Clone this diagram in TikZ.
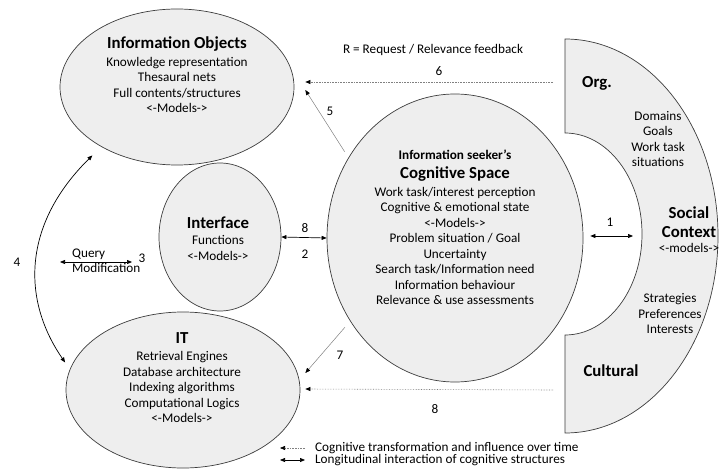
\documentclass[tikz,border=0pt]{standalone}
\usepackage{fontspec}
\setmainfont{Carlito}
\usetikzlibrary{arrows.meta,shapes.geometric,calc}
\definecolor{blobFill}{RGB}{238,238,238}
\definecolor{blobLine}{RGB}{60,60,60}

\tikzset{
  blob/.style={ellipse, draw=blobLine, fill=blobFill, line width=0.7pt, inner sep=0pt},
  head/.style={font=\fontsize{16.8}{19}\selectfont\bfseries, align=center, inner sep=0pt},
  body/.style={font=\fontsize{13.2}{15.5}\selectfont, align=center, inner sep=0pt},
  num/.style={font=\fontsize{13.2}{15}\selectfont, inner sep=0pt},
  dotarrow/.style={draw=gray, densely dotted, line width=0.6pt, -{Triangle[length=5pt,width=4pt,color=black]}},
  thinarrow/.style={draw=gray, line width=0.5pt, -{Triangle[length=5pt,width=4pt,color=black]}},
  twoway/.style={draw=black, line width=0.7pt, {Triangle[length=5pt,width=4pt]}-{Triangle[length=5pt,width=4pt]}}
}

\begin{document}
\begin{tikzpicture}[x=1pt, y=-1pt]
\useasboundingbox (0,0) rectangle (719,470);

% the social context half ring
\coordinate (sc) at (565,236);
\coordinate (inner) at (642,234);
\coordinate (org) at (565,82);
\coordinate (cult) at (565,390);
\draw[draw=blobLine, fill=blobFill, line width=0.7pt]
  (565,39) arc[start angle=90, end angle=-90, x radius=153pt, y radius=197pt]
  -- (565,335) arc[start angle=-90, end angle=90, x radius=77pt, y radius=101pt]
  -- cycle;

% the four ellipses
\node[blob, minimum width=234pt, minimum height=156pt] (io) at (177,87) {};
\node[blob, minimum width=122pt, minimum height=148pt] (ifc) at (220,237) {};
\node[blob, minimum width=234pt, minimum height=156pt] (it) at (183,390) {};
\node[blob, minimum width=256pt, minimum height=288pt] (cog) at (455,238) {};

% texts
\node[head] (iotitle) at (177,44) {Information Objects};
\node[body] (iobody) at (177,85) {Knowledge representation\\Thesaural nets\\Full contents/structures\\<-Models->};
\node[head] (ifctitle) at (218,223) {Interface};
\node[body] (ifcbody) at (218,248) {Functions\\<-Models->};
\node[head] (ittitle) at (182,338) {IT};
\node[body] (itbody) at (182,387) {Retrieval Engines\\Database architecture\\Indexing algorithms\\Computational Logics\\<-Models->};
\node[font=\fontsize{13.2}{15}\selectfont\bfseries, inner sep=0pt] (seeker) at (455,155) {Information seeker’s};
\node[head] (cogtitle) at (455,174) {Cognitive Space};
\node[body] (cogbody) at (455,246) {Work task/interest perception\\Cognitive \& emotional state\\<-Models->\\Problem situation / Goal\\Uncertainty\\Search task/Information need\\Information behaviour\\Relevance \& use assessments};
\node[head] (orgtitle) at (597,83) {Org.};
\node[body] (orgbody) at (658,139) {Domains\\Goals\\Work task\\situations};
\node[head] (sctitle) at (689,222) {Social\\Context};
\node[body] (scmodels) at (689,248) {<-models->};
\node[body] (cultbody) at (670,314) {Strategies\\Preferences\\Interests};
\node[head] (culttitle) at (611,371) {Cultural};

% connectors
\draw[dotarrow] ($(org)+(-12,0)$) -- ($(io.east)+(11,-5)$);
\draw[thinarrow] ($(cog.142)+(-5,-4)$) -- ($(io.east)+(11,3)$);
\draw[twoway] (ifc.east) -- (cog.west);
\draw[thinarrow] ($(cog.219)+(-6,5)$) -- ($(it.east)+(5,-17)$);
\draw[dotarrow] ($(cult)+(-12,0)$) -- ($(it.east)+(5,-1)$);
\draw[twoway] ($(cog.east)+(7,-2)$) -- ($(inner)+(-9,2)$);
\draw[twoway] ($(io.219)+(-10,8)$) .. controls (22,225) and (22,300) .. ($(it.167)+(-7,-2)$);
\coordinate (q1) at (60,262);
\coordinate (q2) at (132,262);
\draw[twoway] (q1) -- (q2);

% labels
\node[num] (rlabel) at (433,50) {R = Request / Relevance feedback};
\node[num] (n6) at (439,71) {6};
\node[num] (n5) at (330,111) {5};
\node[num] (n8a) at (305,228) {8};
\node[num] (n2) at (305,254) {2};
\node[num] (n7) at (340,355) {7};
\node[num] (n8b) at (435,409) {8};
\node[num] (n1) at (610,222) {1};
\node[num] (n4) at (17,262) {4};
\node[num] (n3) at (142,258) {3};
\node[num, anchor=west] (query) at (72,254) {Query};
\node[num, anchor=west] (modif) at (72,268) {Modification};

% legend
\coordinate (lga) at (305,448);
\coordinate (lgb) at (280,448);
\coordinate (lgc) at (280,460);
\coordinate (lgd) at (305,460);
\draw[dotarrow] (lga) -- (lgb);
\draw[twoway] (lgc) -- (lgd);
\node[num, anchor=west] (lgtext1) at (315,448) {Cognitive transformation and influence over time};
\node[num, anchor=west] (lgtext2) at (315,460) {Longitudinal interaction of cognitive structures};
\end{tikzpicture}
\end{document}
